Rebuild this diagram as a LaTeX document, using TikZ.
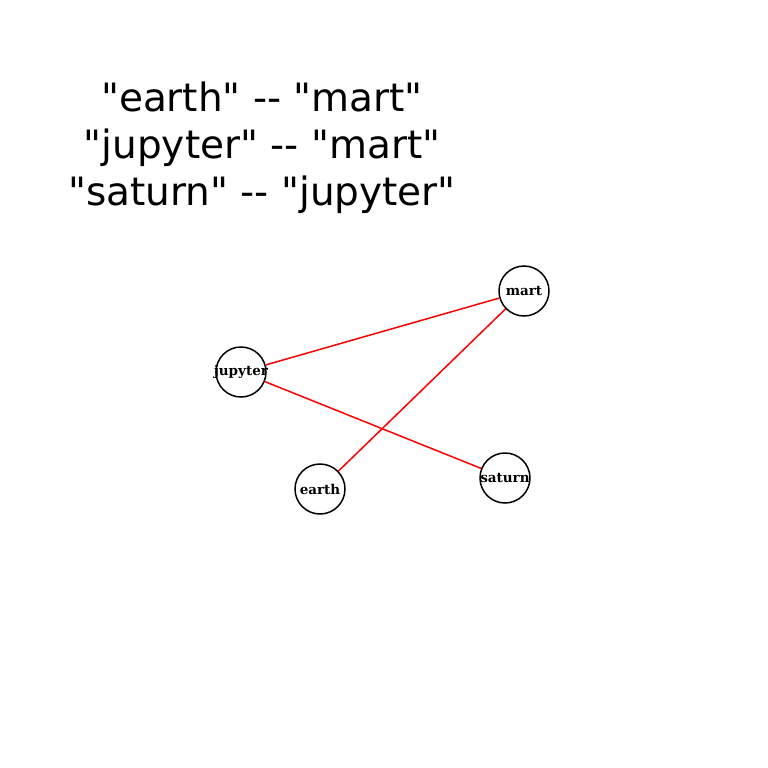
\documentclass[tikz,border=0pt]{standalone}
\usepackage{fontspec}
\setmainfont{DejaVu Sans}[Ligatures=TeXOff]
\newfontfamily\planetfont{DejaVu Serif}
\usetikzlibrary{positioning}
\newcommand{\pname}[1]{\makebox[0pt]{#1}}

\begin{document}
\begin{tikzpicture}[x=1pt, y=-1pt,
    planet/.style={draw, line width=1.5pt, circle, minimum size=50pt, inner sep=0pt,
      font=\planetfont\bfseries\fontsize{13.5}{15}\selectfont},
    link/.style={red, line width=1.5pt}]
      \useasboundingbox (0,0) rectangle (768,768);
      % edge list printed above the graph
      \node[align=center, font=\fontsize{39}{47}\selectfont] (list) at (262,148)
        {"earth" -{}- "mart"\\ "jupyter" -{}- "mart"\\ "saturn" -{}- "jupyter"};

      \node[planet] (mart) at (524,291) {\pname{mart}};
      \node[planet] (jupyter) at (241,372) {\pname{jupyter}};
      \node[planet] (earth) at (320,489) {\pname{earth}};
      \node[planet] (saturn) at (505,478) {\pname{saturn}};

      \draw[link] (earth) -- (mart);
      \draw[link] (jupyter) -- (mart);
      \draw[link] (saturn) -- (jupyter);
    \end{tikzpicture}
\end{document}
